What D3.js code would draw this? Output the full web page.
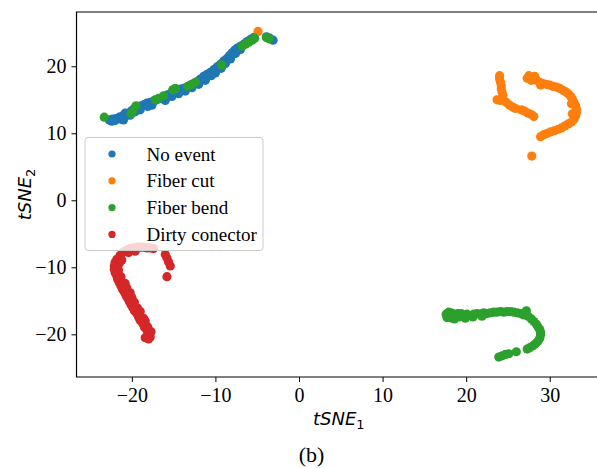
<!DOCTYPE html>
<html>
<head>
<meta charset="utf-8">
<script src="https://cdn.jsdelivr.net/npm/d3@7"></script>
<style>
  body { margin: 0; background: #fff; }
  svg { display: block; }
</style>
</head>
<body>
<div id="chart-div"></div>
<script>
// Figure proportions:
var fig_width = 597,
    fig_height = 468;
var plot_left = 76.5,
    plot_right = 601,
    plot_top = 12,
    plot_bottom = 377;

// Classes and their colours:
var categories = ["No event", "Fiber cut", "Fiber bend", "Dirty conector"];
var colors = ["#1f77b4", "#ff7f0e", "#2ca02c", "#d62728"];

// Tick values:
var x_ticks = [-20, -10, 0, 10, 20, 30];
var y_ticks = [-20, -10, 0, 10, 20];

// tSNE points:
var no_event = [
  [-22.7,12.0],[-22.3,12.1],[-21.9,12.2],[-22.0,11.9],[-21.5,12.4],[-21.1,12.6],[-20.7,12.6],[-20.4,12.9],
  [-20.8,13.0],[-20.1,13.3],[-19.8,13.6],[-19.5,13.9],[-19.2,13.8],[-18.9,14.1],[-18.5,14.3],[-18.2,14.5],
  [-17.8,14.6],[-17.4,14.8],[-17.0,15.0],[-16.6,15.2],[-16.2,15.4],[-15.8,15.7],[-15.4,15.9],[-15.0,16.2],
  [-14.6,16.4],[-14.2,16.6],[-13.8,16.7],[-13.4,16.9],[-13.0,17.2],[-12.6,17.4],[-12.2,17.7],[-11.8,18.1],
  [-11.4,18.5],[-11.0,18.8],[-10.6,19.1],[-10.2,19.5],[-9.8,19.9],[-9.4,20.3],[-9.0,20.8],[-8.6,21.2],
  [-8.3,21.6],[-8.0,22.0],[-7.7,22.4],[-7.4,22.7],[-7.0,23.0],[-6.6,23.3],[-6.2,23.7],[-5.8,24.0],
  [-5.4,24.3],[-3.9,24.4],[-3.5,24.2],[-3.1,23.9],
  [-21.3,12.1],[-20.2,12.7],[-19.0,13.5],[-17.6,14.2],[-16.0,14.9],[-14.4,15.9],[-12.8,16.8],[-11.2,17.9],
  [-10.0,19.0],[-8.8,20.4],[-7.6,21.9],
  [-22.4,11.8],[-21.0,12.0],[-19.6,13.2],[-18.1,14.0],[-15.2,15.5],[-13.6,16.3],[-12.0,17.3],[-10.5,18.6],
  [-9.3,19.7],[-8.2,21.1],[-7.0,22.5]
];
var fiber_cut = [
  [24.0,18.6],[24.0,18.1],[24.1,17.6],[24.2,17.1],[24.2,16.6],[24.3,16.1],[24.4,15.6],[24.4,15.1],
  [23.7,15.0],[24.1,14.9],[24.8,14.6],[25.2,14.2],[25.6,13.9],[25.9,13.7],[26.6,13.5],[27.0,13.3],
  [27.4,13.0],[27.8,12.8],[28.1,12.5],
  [27.3,18.2],[27.5,18.6],[27.9,18.4],[28.2,18.5],[27.8,17.9],[28.4,17.9],[28.8,17.6],[29.2,17.4],
  [29.6,17.3],[30.0,17.2],[30.4,17.0],[30.8,16.9],[31.2,16.7],[31.6,16.4],[31.9,16.2],[32.2,15.9],
  [32.5,15.5],[32.7,15.1],[32.9,14.6],[33.1,14.1],[33.2,13.6],[33.2,13.1],[33.1,12.6],[32.9,12.1],
  [32.6,11.7],[32.2,11.4],[31.8,11.1],[31.4,10.8],[31.0,10.6],[30.6,10.4],[30.1,10.2],[29.7,10.0],
  [29.3,9.8],[28.9,9.5],[27.85,6.6],
  [28.0,18.0],[28.9,17.2],[32.6,14.4],[32.7,12.9],
  [-4.9,25.2]
];
var fiber_bend = [
  [17.6,-17.0],[17.7,-17.5],[18.0,-17.2],[18.3,-17.6],[18.5,-17.0],[18.8,-17.3],[19.2,-17.4],[19.4,-16.9],
  [19.7,-17.2],[20.1,-17.0],[20.5,-17.2],[20.9,-17.0],[21.3,-16.9],[21.7,-17.0],[22.1,-16.8],[22.5,-16.9],
  [22.9,-16.8],[23.3,-16.7],[23.7,-16.7],[24.1,-16.6],[24.5,-16.7],[24.9,-16.6],[25.3,-16.6],[25.7,-16.7],
  [26.1,-16.8],[26.5,-16.9],[26.9,-17.1],[27.2,-16.5],[27.4,-17.3],[27.8,-17.7],[28.1,-18.1],[28.4,-18.5],
  [28.6,-18.9],[28.8,-19.3],[28.9,-19.7],[28.9,-20.1],[28.8,-20.6],[28.6,-21.0],[28.3,-21.4],[28.0,-21.7],
  [27.6,-22.0],[27.3,-22.2],[23.9,-23.4],[24.3,-23.2],[24.7,-23.0],[25.1,-22.9],[26.0,-22.6],
  [17.9,-16.7],[18.6,-17.7],[19.9,-17.6],[18.2,-16.8],[19.0,-16.9],[20.8,-17.4],[21.9,-17.3],
  // bend points mixed into the no-event line:
  [-23.3,12.4],[-20.1,12.9],[-19.9,13.3],[-19.5,14.1],[-17.2,15.0],[-16.8,15.2],[-16.2,15.6],[-15.1,16.5],
  [-14.8,16.7],[-13.3,17.0],[-12.8,17.3],[-12.4,17.6],[-9.25,20.2],[-6.8,23.0],[-6.4,23.3],[-6.0,23.6],
  [-5.6,23.9],[-5.3,24.2],[-3.9,24.3],[-3.6,24.1]
];
var dirty_conector = [
  [-21.4,-8.2],[-21.0,-7.7],[-20.6,-7.4],[-20.2,-7.2],[-19.8,-7.1],[-19.4,-7.0],[-19.0,-7.0],[-18.6,-7.0],
  [-18.2,-7.1],[-17.8,-7.1],[-17.4,-7.2],[-20.4,-7.8],[-19.6,-7.6],
  [-16.0,-8.1],[-15.8,-8.6],[-15.6,-9.2],[-15.4,-9.8],[-15.8,-11.4],
  [-21.8,-8.8],[-22.0,-9.3],[-22.1,-9.8],[-22.1,-10.3],[-22.0,-10.8],[-21.8,-11.3],[-21.7,-11.8],[-21.5,-12.3],
  [-21.3,-12.8],[-21.1,-13.3],[-20.9,-13.7],[-20.7,-14.2],[-20.5,-14.6],[-20.3,-15.1],[-20.1,-15.6],[-19.9,-16.0],
  [-19.7,-16.5],[-19.4,-16.9],[-19.2,-17.4],[-19.0,-17.9],[-18.7,-18.4],[-18.5,-18.9],[-18.2,-19.4],[-18.0,-19.9],
  [-17.8,-20.4],[-18.0,-20.7],[-18.4,-20.5],
  [-21.5,-9.4],[-21.6,-10.4],[-21.3,-11.4],[-20.6,-13.1],[-20.0,-14.5],[-19.3,-16.1],[-18.6,-17.6],
  [-21.2,-8.9],[-21.4,-12.0],[-20.8,-12.4],[-20.2,-13.8],[-19.7,-15.2],[-19.0,-16.6],[-18.4,-18.0],[-18.1,-18.9],
  [-17.7,-19.6]
];
var all_series = [no_event, fiber_cut, fiber_bend, dirty_conector];

var svg = d3.select("#chart-div")
  .append("svg")
    .attr("width", fig_width)
    .attr("height", fig_height)
;

// Scales:
var x = d3.scaleLinear()
  .domain([-26.62, 36.13])
  .range([plot_left, plot_right])
;
var y = d3.scaleLinear()
  .domain([-26.37, 28.1])
  .range([plot_bottom, plot_top])
;

// Points, one group per class:
all_series.forEach(function(points, i) {
  svg.append("g")
    .selectAll("circle")
    .data(points)
    .enter()
    .append("circle")
      .attr("cx", function(d) { return x(d[0]); })
      .attr("cy", function(d) { return y(d[1]); })
      .attr("r", 4.6)
      .attr("fill", colors[i])
  ;
});

// Axes:
var xAxis = svg.append("g")
  .attr("transform", "translate(0," + plot_bottom + ")")
  .call(d3.axisBottom(x).tickValues(x_ticks).tickSize(5).tickPadding(6))
;
var yAxis = svg.append("g")
  .attr("transform", "translate(" + plot_left + ",0)")
  .call(d3.axisLeft(y).tickValues(y_ticks).tickSize(5).tickPadding(5))
;
[xAxis, yAxis].forEach(function(a) {
  a.select(".domain").remove();
  a.selectAll("line").attr("stroke", "#000").attr("stroke-width", 1);
  a.selectAll("text")
    .style("font-family", "'Liberation Serif', 'Times New Roman', serif")
    .style("font-size", "20px")
    .attr("fill", "#000");
});

// Spines (right one falls outside the picture):
svg.append("path")
  .attr("d", "M" + plot_right + "," + plot_top + "H" + plot_left + "V" + plot_bottom + "H" + plot_right)
  .attr("fill", "none")
  .attr("stroke", "#000")
  .attr("stroke-width", 1.2)
;

// Axis labels:
var xLabel = svg.append("text")
  .attr("x", (plot_left + plot_right) / 2)
  .attr("y", 425)
  .attr("text-anchor", "middle")
  .style("font-family", "'DejaVu Sans', sans-serif")
  .style("font-size", "18px")
;
xLabel.append("tspan").style("font-style", "italic").text("tSNE");
xLabel.append("tspan").attr("dy", 4).style("font-size", "13px").text("1");

var yLabel = svg.append("text")
  .attr("transform", "translate(31," + (plot_top + plot_bottom) / 2 + ") rotate(-90)")
  .attr("text-anchor", "middle")
  .style("font-family", "'DejaVu Sans', sans-serif")
  .style("font-size", "18px")
;
yLabel.append("tspan").style("font-style", "italic").text("tSNE");
yLabel.append("tspan").attr("dy", 4).style("font-size", "13px").text("2");

// Caption:
svg.append("text")
  .attr("x", 311.5)
  .attr("y", 462)
  .attr("text-anchor", "middle")
  .style("font-family", "'Liberation Serif', 'Times New Roman', serif")
  .style("font-size", "22px")
  .text("(b)")
;

// Legend:
var legend = svg.append("g");
legend.append("rect")
  .attr("x", 85)
  .attr("y", 137.5)
  .attr("width", 178)
  .attr("height", 113)
  .attr("rx", 3)
  .attr("fill", "#fff")
  .attr("fill-opacity", 0.8)
  .attr("stroke", "#cccccc")
  .attr("stroke-width", 1)
;
var rows = legend.selectAll("g.row")
  .data(categories)
  .enter()
  .append("g")
    .attr("class", "row")
    .attr("transform", function(d, i) { return "translate(0," + (154 + i * 26.8) + ")"; })
;
rows.append("circle")
  .attr("cx", 112)
  .attr("cy", 0)
  .attr("r", 3.6)
  .attr("fill", function(d, i) { return colors[i]; })
;
rows.append("text")
  .attr("x", 146.5)
  .attr("y", 6.5)
  .style("font-family", "'Liberation Serif', 'Times New Roman', serif")
  .style("font-size", "19px")
  .attr("fill", "#000")
  .text(function(d) { return d; })
;
</script>
</body>
</html>
